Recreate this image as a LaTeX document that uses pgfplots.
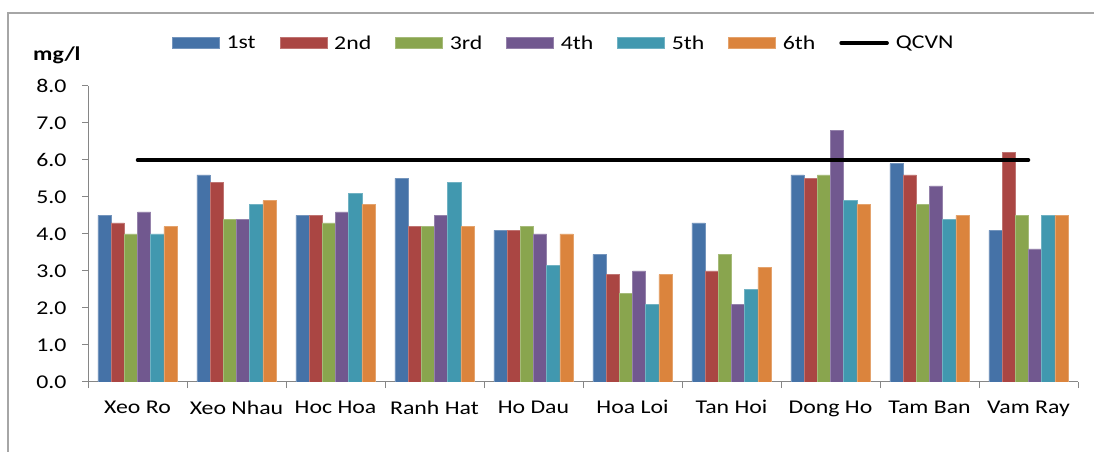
\documentclass[border=0pt]{standalone}
\usepackage{pgfplots}
\pgfplotsset{compat=1.18}
\usepackage{fontspec}
\setmainfont{Carlito}[FakeStretch=1.22]
\definecolor{c1}{HTML}{4572A7}
\definecolor{c2}{HTML}{AA4643}
\definecolor{c3}{HTML}{89A54E}
\definecolor{c4}{HTML}{71588F}
\definecolor{c5}{HTML}{4198AF}
\definecolor{c6}{HTML}{DB843D}
\definecolor{axgray}{HTML}{868686}
\pgfplotsset{
  mybar/.style 2 args={ybar, bar width=0.1333, bar shift=#2, fill=#1, draw=#1!75!white, line width=0.5bp,
    legend image code/.code={\draw[draw=#1!75!white, fill=#1, line width=0.5bp] (0bp,-5.5bp) rectangle (47bp,5.5bp);}},
}
\begin{document}
\begin{tikzpicture}
\useasboundingbox (0,0) rectangle (1094bp,452bp);
\draw[color=black!35, line width=2bp] (8bp,0) -- (8bp,439bp) -- (1094bp,439bp);
\node[anchor=base west, inner sep=0pt, font=\fontsize{19.5bp}{23bp}\selectfont\bfseries] at (33bp,391bp) {mg/l};
\begin{axis}[
  at={(88bp,70bp)}, anchor=south west, scale only axis,
  width=990bp, height=296bp,
  xmin=-0.5, xmax=9.5, ymin=0, ymax=8,
  axis x line*=bottom, axis y line*=left,
  axis line style={draw=axgray, line width=1bp},
  xtick={-0.5,0.5,1.5,2.5,3.5,4.5,5.5,6.5,7.5,8.5,9.5},
  x tick label as interval,
  xticklabels={Xeo Ro, Xeo Nhau, Hoc Hoa, Ranh Hat, Ho Dau, Hoa Loi, Tan Hoi, Dong Ho, Tam Ban, Vam Ray},
  ytick={0,1,2,3,4,5,6,7,8},
  yticklabel={\pgfmathprintnumber[fixed,fixed zerofill,precision=1,assume math mode=true]{\tick}},
  tick align=outside,
  major tick length=6bp,
  tick style={draw=axgray, line width=1bp},
  tick label style={font=\fontsize{19.5bp}{23bp}\selectfont},
  x tick label style={yshift=-9bp},
  y tick label style={xshift=-12bp},
  legend columns=7,
  legend style={at={(0.0848,1.1453)}, anchor=west, draw=none, fill=none, inner sep=0pt,
    font=\fontsize{19.5bp}{23bp}\selectfont, nodes={inner sep=0pt},
    /tikz/every odd column/.append style={column sep=7bp},
    /tikz/every even column/.append style={column sep=24bp}},
]
\addplot[mybar={c1}{-0.3333}] coordinates {(0,4.5) (1,5.6) (2,4.5) (3,5.5) (4,4.1) (5,3.45) (6,4.3) (7,5.6) (8,5.9) (9,4.1)};
\addplot[mybar={c2}{-0.2}] coordinates {(0,4.3) (1,5.4) (2,4.5) (3,4.2) (4,4.1) (5,2.9) (6,3.0) (7,5.5) (8,5.6) (9,6.2)};
\addplot[mybar={c3}{-0.0667}] coordinates {(0,4.0) (1,4.4) (2,4.3) (3,4.2) (4,4.2) (5,2.4) (6,3.45) (7,5.6) (8,4.8) (9,4.5)};
\addplot[mybar={c4}{0.0667}] coordinates {(0,4.6) (1,4.4) (2,4.6) (3,4.5) (4,4.0) (5,3.0) (6,2.1) (7,6.8) (8,5.3) (9,3.6)};
\addplot[mybar={c5}{0.2}] coordinates {(0,4.0) (1,4.8) (2,5.1) (3,5.4) (4,3.15) (5,2.1) (6,2.5) (7,4.9) (8,4.4) (9,4.5)};
\addplot[mybar={c6}{0.3333}] coordinates {(0,4.2) (1,4.9) (2,4.8) (3,4.2) (4,4.0) (5,2.9) (6,3.1) (7,4.8) (8,4.5) (9,4.5)};
\addplot[black, line width=3.5bp, line cap=round,
  legend image code/.code={\draw[black, line width=3.5bp, line cap=round] (2bp,0bp) -- (48bp,0bp);}]
  coordinates {(0,6) (9,6)};
\legend{1st,2nd,3rd,4th,5th,6th,QCVN}
\end{axis}
\end{tikzpicture}
\end{document}
